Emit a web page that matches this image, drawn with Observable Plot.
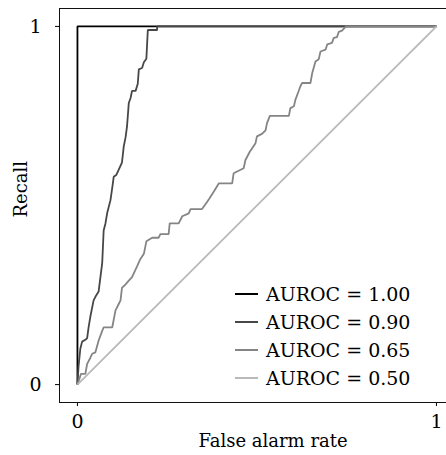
<!DOCTYPE html>
<html>
<head>
<meta charset="utf-8">
<script src="https://cdn.jsdelivr.net/npm/d3@7"></script>
<script src="https://cdn.jsdelivr.net/npm/@observablehq/plot@0.6"></script>
<style>
  html, body { margin: 0; padding: 0; background: #fff; overflow: hidden; }
  #wrap { position: relative; width: 446px; height: 455px; }
  #legend { position: absolute; left: 235px; top: 280px; font-family: "DejaVu Serif", serif; font-size: 19px; color: #000; }
  .row { display: flex; align-items: center; height: 28px; }
  .row svg { margin-right: 8px; }
</style>
</head>
<body>
<div id="wrap"><div id="legend"></div></div>
<script>
// ---- data ----
const seriesNames = ["AUROC = 1.00", "AUROC = 0.90", "AUROC = 0.65", "AUROC = 0.50"];
const seriesColors = ["#000000", "#474747", "#858585", "#b9b9b9"];

const fpr100 = [0, 0, 1];
const tpr100 = [0, 1, 1];

const fpr090 = [0, 0.003, 0.008, 0.013, 0.022, 0.027, 0.031, 0.036, 0.045, 0.05, 0.059, 0.064, 0.069, 0.073, 0.078, 0.083, 0.092, 0.097, 0.101, 0.108, 0.115, 0.124, 0.129, 0.134, 0.138, 0.143, 0.148, 0.152, 0.162, 0.168, 0.171, 0.18, 0.185, 0.192, 0.196, 0.222, 0.222, 1];
const tpr090 = [0, 0.05, 0.10, 0.12, 0.125, 0.13, 0.16, 0.19, 0.235, 0.245, 0.26, 0.30, 0.34, 0.43, 0.45, 0.48, 0.515, 0.55, 0.58, 0.585, 0.60, 0.62, 0.665, 0.69, 0.72, 0.786, 0.80, 0.82, 0.82, 0.84, 0.88, 0.884, 0.90, 0.91, 0.99, 0.99, 1, 1];

const fpr065 = [0, 0.01, 0.022, 0.027, 0.036, 0.041, 0.05, 0.059, 0.069, 0.073, 0.097, 0.106, 0.115, 0.12, 0.124, 0.134, 0.143, 0.152, 0.166, 0.175, 0.185, 0.192, 0.208, 0.226, 0.231, 0.254, 0.257, 0.282, 0.292, 0.31, 0.315, 0.347, 0.361, 0.368, 0.38, 0.394, 0.431, 0.435, 0.463, 0.468, 0.48, 0.496, 0.50, 0.514, 0.524, 0.528, 0.536, 0.589, 0.593, 0.603, 0.607, 0.616, 0.621, 0.626, 0.649, 0.654, 0.663, 0.672, 0.677, 0.691, 0.696, 0.709, 0.714, 0.723, 0.728, 0.737, 0.748, 1];
const tpr065 = [0, 0.03, 0.03, 0.058, 0.075, 0.086, 0.09, 0.123, 0.15, 0.16, 0.16, 0.207, 0.225, 0.235, 0.27, 0.28, 0.29, 0.30, 0.33, 0.35, 0.365, 0.40, 0.41, 0.41, 0.42, 0.42, 0.45, 0.45, 0.47, 0.478, 0.49, 0.49, 0.51, 0.52, 0.539, 0.562, 0.562, 0.59, 0.604, 0.627, 0.65, 0.674, 0.693, 0.70, 0.71, 0.73, 0.75, 0.75, 0.772, 0.777, 0.795, 0.819, 0.833, 0.842, 0.842, 0.87, 0.902, 0.908, 0.93, 0.935, 0.95, 0.954, 0.968, 0.97, 0.985, 0.988, 1, 1];

const fpr050 = [0, 1];
const tpr050 = [0, 1];

const axisTicks = [0, 1];
const axisTickLabels = ["0", "1"];
const xLabel = "False alarm rate";
const yLabel = "Recall";

// ---- build ----
const fprs = [fpr100, fpr090, fpr065, fpr050];
const tprs = [tpr100, tpr090, tpr065, tpr050];
const rows = [];
fprs.forEach((fx, i) => fx.forEach((v, j) => rows.push({s: seriesNames[i], x: v, y: tprs[i][j]})));

const xDomain = [-0.05, 1.028];
const yDomain = [-0.05, 1.05];
const fmt = d => axisTickLabels[axisTicks.indexOf(d)];

const chart = Plot.plot({
  width: 446,
  height: 455,
  marginLeft: 59,
  marginRight: 0,
  marginTop: 8,
  marginBottom: 53,
  style: {fontFamily: "DejaVu Serif, serif", fontSize: "19px", background: "#fff", color: "#000"},
  x: {domain: xDomain, ticks: axisTicks, tickFormat: fmt, tickSize: 4, tickPadding: 8, label: null},
  y: {domain: yDomain, ticks: axisTicks, tickFormat: fmt, tickSize: 4, tickPadding: 14, label: null},
  color: {domain: seriesNames, range: seriesColors},
  marks: [
    Plot.ruleX([xDomain[0]], {stroke: "#111", strokeWidth: 1}),
    Plot.ruleY([yDomain[0], yDomain[1]], {stroke: "#111", strokeWidth: 1}),
    ...seriesNames.map(name => Plot.line(rows.filter(r => r.s === name), {
      x: "x", y: "y", stroke: "s", strokeWidth: 1.8, strokeLinejoin: "miter", strokeLinecap: "butt"
    })),
    Plot.text([xLabel], {frameAnchor: "bottom", text: d => d, dx: 20, dy: 44, fontSize: 18}),
    Plot.text([yLabel], {frameAnchor: "left", text: d => d, rotate: -90, dx: -38, dy: 12, fontSize: 18})
  ]
});
document.getElementById("wrap").prepend(chart);

const legend = document.getElementById("legend");
seriesNames.forEach((name, i) => {
  const row = document.createElement("div");
  row.className = "row";
  row.innerHTML = `<svg width="23" height="4"><line x1="0" x2="23" y1="2" y2="2" stroke="${seriesColors[i]}" stroke-width="2"/></svg><span>${name}</span>`;
  legend.appendChild(row);
});
</script>
</body>
</html>
